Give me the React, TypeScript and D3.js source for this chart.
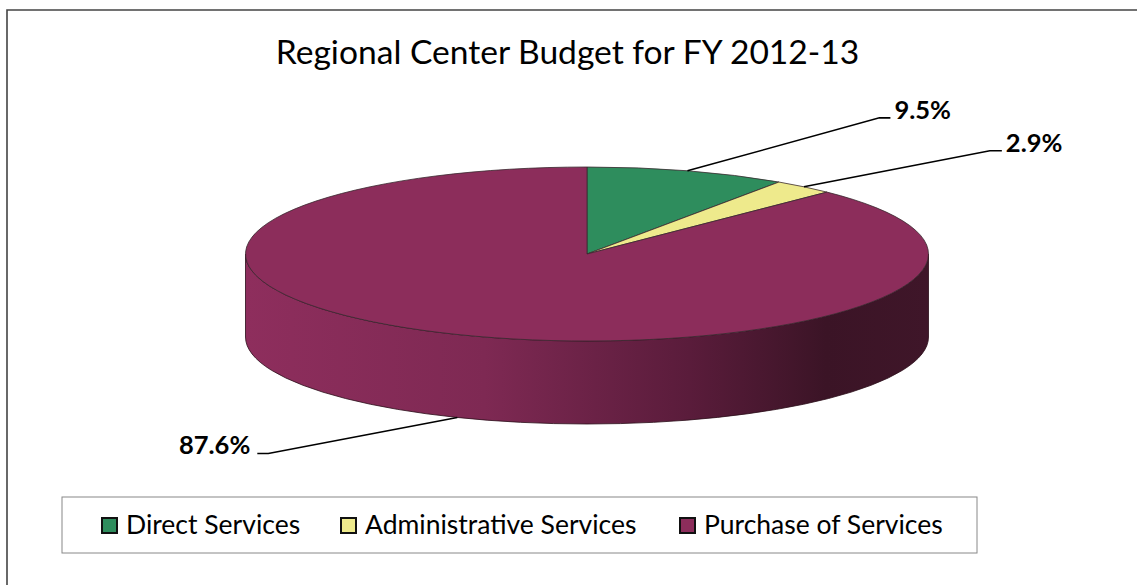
import React from 'react';
import * as d3 from 'd3';

// chart data
const categories = ['Direct Services', 'Administrative Services', 'Purchase of Services'];
const shares = [9.5, 2.9, 87.6];
const labels = ['9.5%', '2.9%', '87.6%'];
const colors = ['#2e8d5d', '#eeea8c', '#8c2d5b'];

const title = 'Regional Center Budget for FY 2012-13';

// layout
const W = 1137, H = 585;
const cx = 587, cy = 254, rx = 341.5, ry = 87, depth = 83;
// leader line elbows, relative to the slice's mid point on the rim
const elbows = [[192, -53], [186, -36], [-189, 36]];
const tails = [11, 12, -11];
const legendX = [101, 340, 679];

const FONT = 'Lato, "Open Sans", sans-serif';

const pt = (a: number, dy = 0) => [cx + rx * Math.sin(a), cy - ry * Math.cos(a) + dy];

export default function App() {
  const pie = d3.pie<number>().sort(null).value(d => d)(shares);

  const topPath = (a0: number, a1: number) => {
    const [x0, y0] = pt(a0);
    const [x1, y1] = pt(a1);
    const large = a1 - a0 > Math.PI ? 1 : 0;
    return `M${cx},${cy}L${x0},${y0}A${rx},${ry} 0 ${large} 1 ${x1},${y1}Z`;
  };

  const wallPath = (a0: number, a1: number) => {
    const s = Math.max(a0, Math.PI / 2);
    const e = Math.min(a1, Math.PI * 1.5);
    if (e <= s) return null;
    const [x0, y0] = pt(s);
    const [x1, y1] = pt(e);
    const large = e - s > Math.PI ? 1 : 0;
    return `M${x0},${y0}A${rx},${ry} 0 ${large} 1 ${x1},${y1}L${x1},${y1 + depth}A${rx},${ry} 0 ${large} 0 ${x0},${y0 + depth}Z`;
  };

  return (
    <svg width={W} height={H} style={{ position: 'absolute', left: 0, top: 0, background: '#fff' }}>
      <defs>
        <linearGradient id="wall" x1={cx - rx} x2={cx + rx} y1={0} y2={0} gradientUnits="userSpaceOnUse">
          <stop offset="0%" stopColor="#8e2e5d" />
          <stop offset="35%" stopColor="#7e2953" />
          <stop offset="65%" stopColor="#5a1c3b" />
          <stop offset="85%" stopColor="#3b1426" />
          <stop offset="100%" stopColor="#3f1629" />
        </linearGradient>
      </defs>

      {/* outer frame (only left and top edges show) */}
      <path d={`M7,${H}L7,10L${W},10`} fill="none" stroke="#444" strokeWidth={1.6} />

      <text x={567.5} y={64} textAnchor="middle" fontFamily={FONT} fontSize={33.6} fill="#000">{title}</text>

      {/* side walls */}
      {pie.map((p, i) => {
        const d = wallPath(p.startAngle, p.endAngle);
        return d ? <path key={'w' + i} d={d} fill="url(#wall)" stroke="#2a0c18" strokeWidth={0.8} /> : null;
      })}

      {/* top faces */}
      {pie.map((p, i) => (
        <path key={'t' + i} d={topPath(p.startAngle, p.endAngle)} fill={colors[i]} stroke="#3a2a30" strokeWidth={0.8} strokeLinejoin="round" />
      ))}

      {/* leader lines and labels */}
      {pie.map((p, i) => {
        const mid = (p.startAngle + p.endAngle) / 2;
        const front = Math.cos(mid) < 0;
        const [mx, my] = pt(mid, front ? depth : 0);
        const ex = mx + elbows[i][0], ey = my + elbows[i][1];
        const tx = ex + tails[i];
        const right = tails[i] > 0;
        return (
          <g key={'l' + i}>
            <path d={`M${mx},${my}L${ex},${ey}L${tx},${ey}`} fill="none" stroke="#000" strokeWidth={1.6} />
            <text x={right ? tx + 4 : tx - 7} y={ey + 1} textAnchor={right ? 'start' : 'end'}
              fontFamily={FONT} fontWeight="bold" fontSize={25.5} fill="#000">{labels[i]}</text>
          </g>
        );
      })}

      {/* legend */}
      <rect x={62} y={497} width={915} height={56} fill="#fff" stroke="#888" strokeWidth={1} />
      {categories.map((c, i) => (
        <g key={'g' + i} transform={`translate(${legendX[i]},518)`}>
          <rect x={1} y={0} width={15} height={15} fill={colors[i]} stroke="#111" strokeWidth={2} />
          <text x={25} y={16} fontFamily={FONT} fontSize={26.5} fill="#000">{c}</text>
        </g>
      ))}
    </svg>
  );
}
